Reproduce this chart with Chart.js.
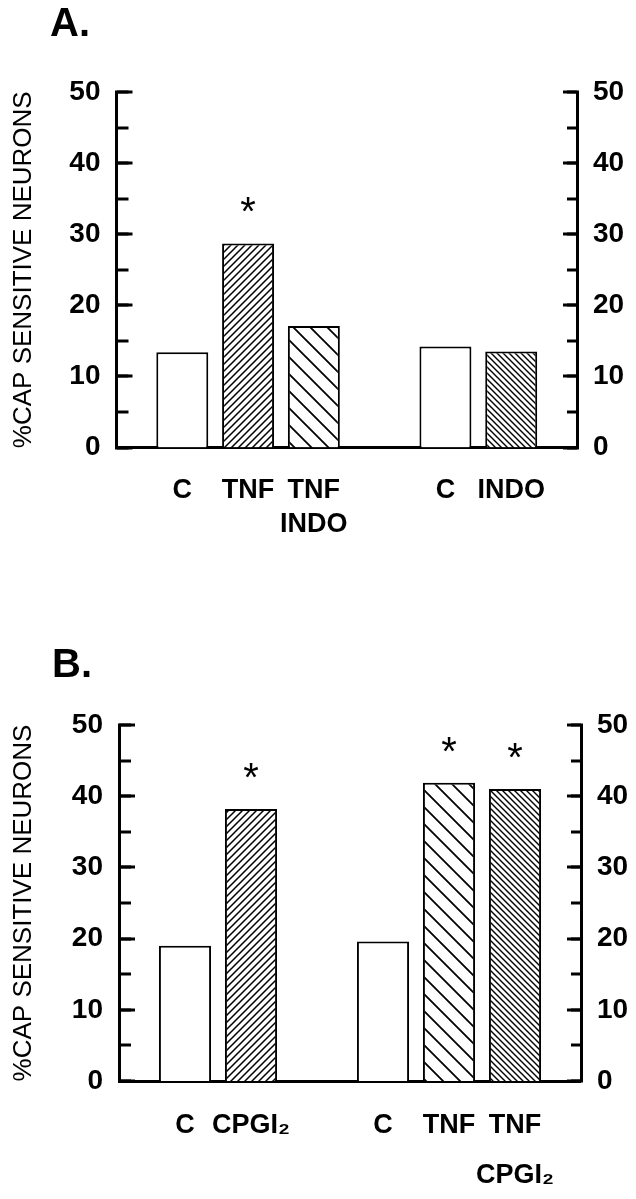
<!DOCTYPE html>
<html><head><meta charset="utf-8">
<script src="https://cdn.jsdelivr.net/npm/chart.js@4.4.1/dist/chart.umd.min.js"></script>
<style>
html,body{margin:0;padding:0;background:#fff;width:636px;height:1199px;overflow:hidden;}
.panel{position:absolute;left:0;width:636px;}
.ptitle{position:absolute;font-family:"Liberation Sans",Arial,sans-serif;font-weight:bold;font-size:40px;line-height:1;color:#000;}
</style></head><body>
<div class="panel" style="top:0;height:570px"><canvas id="cA"></canvas></div>
<div class="panel" style="top:570px;height:629px"><canvas id="cB"></canvas></div>
<div class="ptitle" style="left:50px;top:2px">A.</div>
<div class="ptitle" style="left:52px;top:643px">B.</div>
<script>
// ---- data ----
const tickValues = [0, 10, 20, 30, 40, 50];
const yTitle = '%CAP SENSITIVE NEURONS';

const labelsA = ['', 'C', 'TNF', ['TNF', 'INDO'], '', 'C', 'INDO', ''];
const valuesA = [null, 13.4, 28.7, 17.1, null, 14.2, 13.5, null];
const fillsA  = ['', 'open', 'fwdDense', 'backSparse', '', 'open', 'backDense', ''];
const sigA    = [false, false, true, false, false, false, false, false];

const labelsB = ['', 'C', 'CPGI₂', '', 'C', 'TNF', ['TNF', 'CPGI₂'], ''];
const valuesB = [null, 19.0, 38.2, null, 19.6, 41.9, 41.0, null];
const fillsB  = ['', 'open', 'fwdDense', '', 'open', 'backSparse', 'backDense', ''];
const sigB    = [false, false, true, false, false, true, true, false];

// ---- hatch patterns ----
function hatch(dir, p, lw) {
  const c = document.createElement('canvas');
  c.width = p; c.height = p;
  const g = c.getContext('2d');
  g.fillStyle = '#fff'; g.fillRect(0, 0, p, p);
  g.strokeStyle = '#000'; g.lineWidth = lw; g.beginPath();
  for (const k of [-1, 0, 1]) {
    if (dir === '/') { const cc = (k + 1) * p; g.moveTo(cc + 1, -1); g.lineTo(-1, cc + 1); }
    else { const cc = k * p; g.moveTo(cc - 1, -1); g.lineTo(cc + p + 1, p + 1); }
  }
  g.stroke();
  return g.createPattern(c, 'repeat');
}
const fillMap = {
  open: '#ffffff',
  fwdDense: hatch('/', 7, 1.5),
  backSparse: hatch('\\', 17, 1.8),
  backDense: hatch('\\', 6, 1.4)
};

const starPlugin = {
  id: 'stars',
  afterDatasetsDraw(chart, args, opts) {
    const meta = chart.getDatasetMeta(0);
    const ctx = chart.ctx;
    ctx.save();
    ctx.fillStyle = '#000';
    ctx.font = 'normal 40px "Liberation Sans", Arial, sans-serif';
    ctx.textAlign = 'center';
    ctx.textBaseline = 'middle';
    opts.sig.forEach((s, i) => {
      if (!s) return;
      const el = meta.data[i];
      ctx.fillText('*', el.x, el.y - opts.gap);
    });
    ctx.restore();
  }
};

const fam = '"Liberation Sans", Arial, sans-serif';
const tickFont = { family: fam, weight: 'bold', size: 28 };

function yAxis(pos, geo, withTitle, major) {
  const len = pos === 'left' ? (major ? 16 : 12) : (major ? 14 : 10);
  return {
    position: pos, min: 0, max: 50, weight: major ? 1 : 0,
    ticks: { stepSize: major ? 10 : 5, autoSkip: false, color: '#000', font: tickFont,
      padding: major ? 30 + (len - 14) : 0, display: true,
      callback: v => (major && tickValues.includes(v)) ? String(v) : '' },
    grid: { drawOnChartArea: false, drawTicks: true, tickLength: -len, tickWidth: 3, tickColor: '#000', lineWidth: 0 },
    border: { display: major, width: 3, color: '#000' },
    title: withTitle ? { display: true, text: yTitle, color: '#000',
      font: { family: fam, size: 26, weight: 'normal' }, padding: { top: 8, bottom: 0 } } : { display: false },
    afterFit: s => { s.width = major ? (pos === 'left' ? geo.left : 636 - geo.right) : 0; }
  };
}

function build(id, labels, values, fills, sig, geo) {
  return new Chart(document.getElementById(id), {
    type: 'bar',
    data: { labels: labels, datasets: [{
      data: values,
      backgroundColor: fills.map(f => fillMap[f] || '#ffffff'),
      borderColor: '#000', borderWidth: 2,
      categoryPercentage: 1, barPercentage: 0.79
    }]},
    options: {
      responsive: true, maintainAspectRatio: false, animation: false,
      layout: { padding: { top: geo.top, left: 0, right: 0, bottom: 0 } },
      plugins: { legend: { display: false }, tooltip: { enabled: false }, stars: { sig: sig, gap: 29 } },
      scales: {
        x: {
          type: 'category', offset: false,
          grid: { display: true, drawOnChartArea: false, drawTicks: false, lineWidth: 0 },
          border: { display: true, width: 3, color: '#000' },
          ticks: { color: '#000', autoSkip: false, maxRotation: 0, padding: geo.xpad,
            font: { family: fam, weight: 'bold', size: 27, lineHeight: geo.lh + 'px' } },
          afterFit: s => { s.height = geo.h - geo.bottom; }
        },
        y: yAxis('left', geo, true, true),
        yMinor: yAxis('left', geo, false, false),
        y2: yAxis('right', geo, false, true),
        y2Minor: yAxis('right', geo, false, false)
      }
    },
    plugins: [starPlugin]
  });
}

build('cA', labelsA, valuesA, fillsA, sigA, { h: 570, top: 92, bottom: 447.5, left: 116.5, right: 577, lh: 34, xpad: 26 });
build('cB', labelsB, valuesB, fillsB, sigB, { h: 629, top: 155, bottom: 511, left: 119, right: 581, lh: 50, xpad: 20 });
</script>
</body></html>
